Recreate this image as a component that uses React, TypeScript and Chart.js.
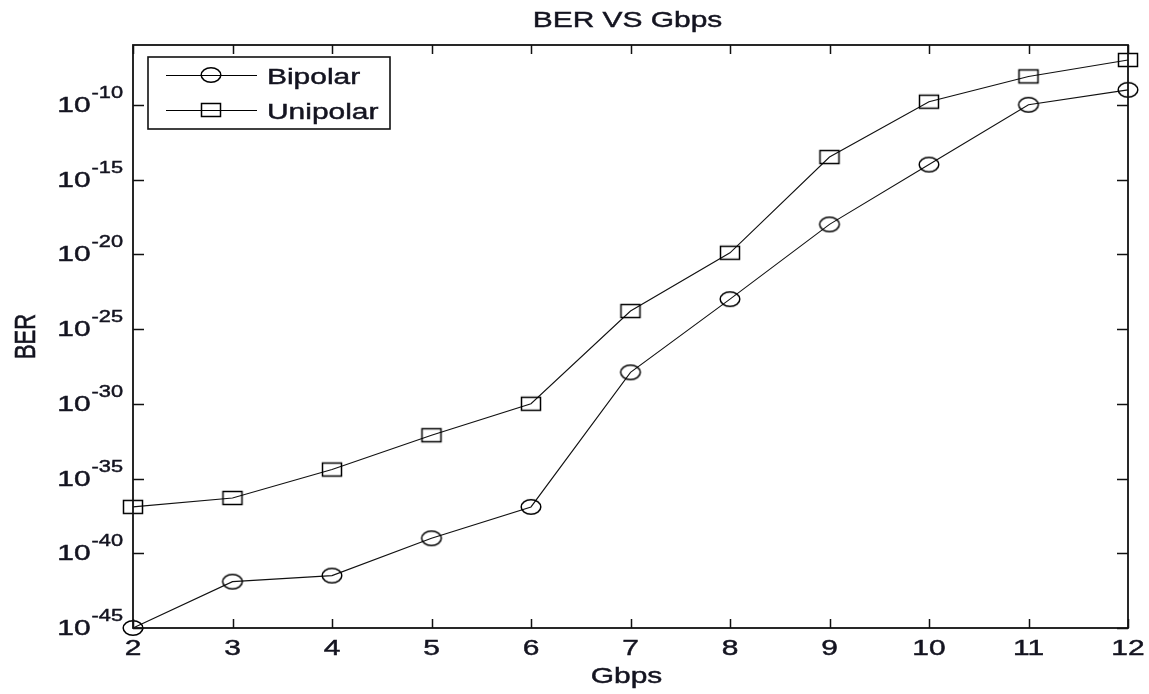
import React, { useEffect, useRef } from "react";
import { Chart, registerables } from "chart.js";

Chart.register(...registerables);

// Data rate (Gbps) on the x axis
const GBPS = [2, 3, 4, 5, 6, 7, 8, 9, 10, 11, 12];

// Bit error rate for each line code
const BIPOLAR_BER = [1e-45, 1.26e-42, 3.2e-42, 1e-39, 1.26e-37, 1.26e-28, 1e-23, 1e-18, 1e-14, 1e-10, 1e-9];
const UNIPOLAR_BER = [1.26e-37, 5e-37, 4e-35, 7.9e-33, 1e-30, 1.6e-24, 1.26e-20, 3.2e-14, 1.6e-10, 7.9e-9, 1e-7];

// Axis ticks
const X_TICKS = [2, 3, 4, 5, 6, 7, 8, 9, 10, 11, 12];
const Y_TICKS = [1e-45, 1e-40, 1e-35, 1e-30, 1e-25, 1e-20, 1e-15, 1e-10];
const Y_TICK_EXPONENTS = ["-45", "-40", "-35", "-30", "-25", "-20", "-15", "-10"];

const SERIES_NAMES = ["Bipolar", "Unipolar"];

const FONT_FAMILY = "Arial, 'Liberation Sans', sans-serif";
const TEXT_COLOR = "#141420";
const STRETCH = 1.36; // horizontal text stretch

function stretchedText(
  ctx: CanvasRenderingContext2D,
  text: string,
  x: number,
  y: number,
  align: "left" | "center" | "right",
  size: number
) {
  ctx.save();
  ctx.font = `${size}px ${FONT_FAMILY}`;
  ctx.fillStyle = TEXT_COLOR;
  ctx.strokeStyle = TEXT_COLOR;
  ctx.lineWidth = 0.45;
  ctx.textAlign = "left";
  ctx.textBaseline = "alphabetic";
  const w = ctx.measureText(text).width * STRETCH;
  let left = x;
  if (align === "center") left = x - w / 2;
  if (align === "right") left = x - w;
  ctx.translate(left, y);
  ctx.scale(STRETCH, 1);
  ctx.fillText(text, 0, 0);
  ctx.strokeText(text, 0, 0);
  ctx.restore();
  return w;
}

function makeMarker(kind: "ellipse" | "rect"): HTMLCanvasElement {
  const c = document.createElement("canvas");
  c.width = 24;
  c.height = 18;
  const g = c.getContext("2d")!;
  g.strokeStyle = "#000";
  g.lineWidth = 1.5;
  g.beginPath();
  if (kind === "ellipse") {
    g.ellipse(12, 9, 9.8, 7.3, 0, 0, Math.PI * 2);
  } else {
    g.rect(2.5, 2.5, 19, 13);
  }
  g.stroke();
  return c;
}

export default function App() {
  const canvasRef = useRef<HTMLCanvasElement | null>(null);

  useEffect(() => {
    const canvas = canvasRef.current;
    if (!canvas) return;
    const circle = makeMarker("ellipse");
    const square = makeMarker("rect");

    const axesPlugin = {
      id: "matlabAxes",
      afterDraw(chart: any) {
        const ctx: CanvasRenderingContext2D = chart.ctx;
        const { left, right, top, bottom } = chart.chartArea;
        const xs = chart.scales.x;
        const ys = chart.scales.y;

        ctx.save();
        // frame
        ctx.strokeStyle = "#111";
        ctx.lineWidth = 1.8;
        ctx.strokeRect(left, top, right - left, bottom - top);

        // inward ticks
        ctx.lineWidth = 1.5;
        ctx.beginPath();
        X_TICKS.forEach((v) => {
          const px = Math.round(xs.getPixelForValue(v)) + 0.5;
          ctx.moveTo(px, bottom);
          ctx.lineTo(px, bottom - 9);
          ctx.moveTo(px, top);
          ctx.lineTo(px, top + 9);
        });
        Y_TICKS.forEach((v) => {
          const py = Math.round(ys.getPixelForValue(v)) + 0.5;
          ctx.moveTo(left, py);
          ctx.lineTo(left + 11, py);
          ctx.moveTo(right, py);
          ctx.lineTo(right - 11, py);
        });
        ctx.stroke();
        ctx.restore();

        // x tick labels
        X_TICKS.forEach((v) => {
          stretchedText(ctx, String(v), xs.getPixelForValue(v), bottom + 27, "center", 22);
        });

        // y tick labels as 10^n
        Y_TICKS.forEach((v, i) => {
          const py = ys.getPixelForValue(v);
          const supRight = left - 10;
          const supW = stretchedText(ctx, Y_TICK_EXPONENTS[i], supRight, py - 7, "right", 16);
          stretchedText(ctx, "10", supRight - supW - 1, py + 7, "right", 22);
        });

        // title and axis labels
        const cx = (left + right) / 2;
        stretchedText(ctx, "BER VS Gbps", cx - 3, 27, "center", 22);
        stretchedText(ctx, "Gbps", cx - 4, 683, "center", 22);

        ctx.save();
        ctx.font = `22px ${FONT_FAMILY}`;
        ctx.fillStyle = TEXT_COLOR;
        ctx.strokeStyle = TEXT_COLOR;
        ctx.lineWidth = 0.45;
        ctx.textAlign = "center";
        ctx.textBaseline = "alphabetic";
        ctx.translate(35, (top + bottom) / 2);
        ctx.scale(STRETCH, 1);
        ctx.rotate(-Math.PI / 2);
        ctx.fillText("BER", 0, 0);
        ctx.strokeText("BER", 0, 0);
        ctx.restore();

        // legend box
        ctx.save();
        ctx.fillStyle = "#fff";
        ctx.fillRect(148, 57, 242, 72);
        ctx.strokeStyle = "#111";
        ctx.lineWidth = 1.6;
        ctx.strokeRect(148, 57, 242, 72);
        const rows = [
          { y: 75, marker: circle },
          { y: 110, marker: square },
        ];
        rows.forEach((r, i) => {
          ctx.strokeStyle = "#000";
          ctx.lineWidth = 1.2;
          ctx.beginPath();
          ctx.moveTo(166, r.y + 0.5);
          ctx.lineTo(257, r.y + 0.5);
          ctx.stroke();
          ctx.drawImage(r.marker, 211 - r.marker.width / 2, r.y - r.marker.height / 2);
          stretchedText(ctx, SERIES_NAMES[i], 267, r.y + 9, "left", 22);
        });
        ctx.restore();
      },
    };

    const chart = new Chart(canvas, {
      type: "line",
      data: {
        datasets: [
          {
            label: SERIES_NAMES[0],
            data: GBPS.map((g, i) => ({ x: g, y: BIPOLAR_BER[i] })),
            borderColor: "#111",
            borderWidth: 1.1,
            pointStyle: circle as any,
            pointRadius: 9,
            tension: 0,
            clip: false as any,
          },
          {
            label: SERIES_NAMES[1],
            data: GBPS.map((g, i) => ({ x: g, y: UNIPOLAR_BER[i] })),
            borderColor: "#111",
            borderWidth: 1.1,
            pointStyle: square as any,
            pointRadius: 9,
            tension: 0,
            clip: false as any,
          },
        ],
      },
      options: {
        responsive: false,
        animation: false,
        layout: { padding: { left: 133, right: 21, top: 45, bottom: 66 } },
        scales: {
          x: { type: "linear", min: 2, max: 12, display: false },
          y: { type: "logarithmic", min: 1e-45, max: 1e-6, display: false },
        },
        plugins: {
          legend: { display: false },
          tooltip: { enabled: false },
          title: { display: false },
        },
      },
      plugins: [axesPlugin],
    });

    return () => chart.destroy();
  }, []);

  return (
    <div style={{ position: "absolute", left: 0, top: 0, width: 1149, height: 694, background: "#fff" }}>
      <canvas ref={canvasRef} width={1149} height={694} style={{ display: "block" }} />
    </div>
  );
}
